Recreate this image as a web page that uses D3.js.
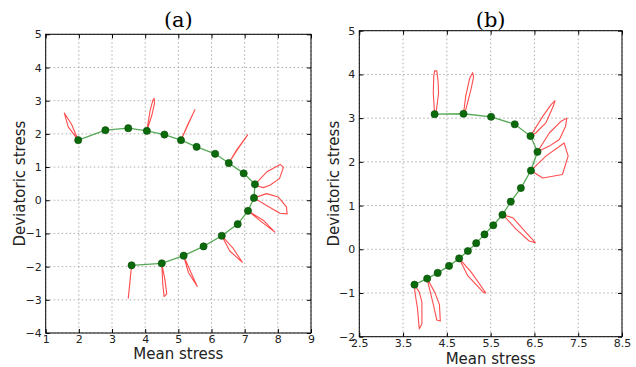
<!DOCTYPE html>
<html>
<head>
<meta charset="utf-8">
<script src="https://cdn.jsdelivr.net/npm/d3@7"></script>
<style>
  body { margin: 0; background: #fff; }
  svg text { font-family: "DejaVu Sans", sans-serif; }
</style>
</head>
<body>
<svg width="636" height="367"></svg>
<script>
// stress path points, panel (a)
const aPoints = [
  [1.98, 1.81], [2.80, 2.11], [3.49, 2.17], [4.05, 2.09], [4.58, 1.98],
  [5.08, 1.81], [5.55, 1.61], [6.11, 1.40], [6.52, 1.12], [6.97, 0.81],
  [7.31, 0.48], [7.28, 0.07], [7.10, -0.32], [6.79, -0.72], [6.31, -1.07],
  [5.76, -1.39], [5.16, -1.67], [4.50, -1.90], [3.59, -1.96]
];
// red loops, panel (a)
const aLoops = [
  [[1.98, 1.81], [1.68, 2.21], [1.56, 2.63], [1.78, 2.29]],
  [[4.05, 2.09], [4.15, 2.71], [4.23, 3.01], [4.27, 3.07], [4.28, 2.91], [4.20, 2.56]],
  [[5.08, 1.81], [5.30, 2.30], [5.50, 2.73], [5.27, 2.25]],
  [[6.52, 1.12], [6.80, 1.55], [7.09, 1.97], [6.76, 1.52]],
  [[7.31, 0.48], [7.66, 0.85], [8.07, 1.08], [8.17, 1.00], [8.05, 0.65], [7.76, 0.45], [7.56, 0.38], [7.41, 0.42]],
  [[7.28, 0.07], [7.66, 0.20], [8.01, 0.10], [8.26, -0.20], [8.28, -0.41], [8.06, -0.39], [7.66, -0.16]],
  [[7.10, -0.32], [7.56, -0.60], [7.91, -0.96], [7.51, -0.65]],
  [[6.31, -1.07], [6.66, -1.46], [6.93, -1.87], [6.55, -1.53]],
  [[5.16, -1.67], [5.40, -2.22], [5.57, -2.60], [5.30, -2.17]],
  [[4.50, -1.90], [4.60, -2.42], [4.65, -2.82], [4.57, -2.90], [4.53, -2.52]],
  [[3.59, -1.96], [3.49, -2.95], [3.54, -2.47]]
];

// stress path points, panel (b)
const bPoints = [
  [4.22, 3.09], [4.88, 3.10], [5.51, 3.03], [6.05, 2.86], [6.41, 2.59],
  [6.57, 2.23], [6.42, 1.80], [6.19, 1.40], [5.96, 1.09], [5.77, 0.79],
  [5.56, 0.55], [5.36, 0.34], [5.17, 0.14], [4.98, -0.04], [4.78, -0.21],
  [4.55, -0.38], [4.29, -0.54], [4.05, -0.67], [3.76, -0.81]
];
// red loops, panel (b)
const bLoops = [
  [[4.22, 3.09], [4.19, 3.57], [4.20, 3.95], [4.22, 4.08], [4.27, 4.08], [4.30, 3.84], [4.31, 3.57], [4.25, 3.09]],
  [[4.88, 3.10], [4.93, 3.50], [5.02, 3.91], [5.09, 4.04], [5.11, 3.94], [5.05, 3.65], [4.93, 3.19]],
  [[6.41, 2.59], [6.69, 3.04], [6.88, 3.31], [6.97, 3.40], [6.93, 3.27], [6.76, 2.89], [6.53, 2.66]],
  [[6.57, 2.23], [6.84, 2.66], [7.11, 2.93], [7.24, 3.00], [7.21, 2.81], [7.07, 2.51], [6.84, 2.36]],
  [[6.42, 1.80], [6.76, 2.13], [7.18, 2.43], [7.27, 2.13], [7.14, 1.71], [6.69, 1.63]],
  [[5.77, 0.79], [6.01, 0.72], [6.31, 0.38], [6.52, 0.15], [6.38, 0.19], [6.08, 0.46], [5.81, 0.76]],
  [[4.78, -0.21], [5.06, -0.53], [5.39, -1.00], [5.33, -0.98], [4.98, -0.61]],
  [[4.05, -0.67], [4.22, -0.98], [4.33, -1.26], [4.35, -1.64], [4.27, -1.62], [4.20, -1.30], [4.09, -0.85]],
  [[3.76, -0.81], [3.87, -0.98], [3.93, -1.21], [3.93, -1.71], [3.87, -1.82], [3.83, -1.36], [3.77, -0.98]]
];

const aXTicks = [1, 2, 3, 4, 5, 6, 7, 8, 9];
const aYTicks = [-4, -3, -2, -1, 0, 1, 2, 3, 4, 5];
const bXTicks = [2.5, 3.5, 4.5, 5.5, 6.5, 7.5, 8.5];
const bYTicks = [-2, -1, 0, 1, 2, 3, 4, 5];

const svg = d3.select('svg');
const fmt = v => String(v).replace('-', '\u2212');

function panel(cfg) {
  const x = d3.scaleLinear().domain(cfg.xDomain).range([cfg.left, cfg.right]);
  const y = d3.scaleLinear().domain(cfg.yDomain).range([cfg.bottom, cfg.top]);
  const g = svg.append('g');

  // dotted grid
  g.selectAll('.gx').data(cfg.xTicks).enter().append('line')
    .attr('x1', d => x(d)).attr('x2', d => x(d))
    .attr('y1', cfg.top).attr('y2', cfg.bottom)
    .attr('stroke', '#999').attr('stroke-width', 0.8).attr('stroke-dasharray', '1.5,2.5');
  g.selectAll('.gy').data(cfg.yTicks).enter().append('line')
    .attr('y1', d => y(d)).attr('y2', d => y(d))
    .attr('x1', cfg.left).attr('x2', cfg.right)
    .attr('stroke', '#999').attr('stroke-width', 0.8).attr('stroke-dasharray', '1.5,2.5');

  // axes with inward ticks
  const axB = d3.axisBottom(x).tickValues(cfg.xTicks).tickSize(-4).tickPadding(2).tickFormat(fmt);
  const axL = d3.axisLeft(y).tickValues(cfg.yTicks).tickSize(-4).tickPadding(4).tickFormat(fmt);
  const axT = d3.axisTop(x).tickValues(cfg.xTicks).tickSize(-4).tickFormat('');
  const axR = d3.axisRight(y).tickValues(cfg.yTicks).tickSize(-4).tickFormat('');
  [[axB, `translate(0,${cfg.bottom})`], [axL, `translate(${cfg.left},0)`],
   [axT, `translate(0,${cfg.top})`], [axR, `translate(${cfg.right},0)`]].forEach(([ax, tr]) => {
    const a = g.append('g').attr('transform', tr).call(ax);
    a.select('.domain').remove();
    a.selectAll('text').attr('font-size', 11).attr('fill', '#222')
      .attr('font-family', '"DejaVu Sans", sans-serif');
  });

  // red loops
  const line = d3.line().x(d => x(d[0])).y(d => y(d[1]));
  g.selectAll('.loop').data(cfg.loops).enter().append('path')
    .attr('d', d => line(d) + 'Z')
    .attr('fill', 'none').attr('stroke', '#ff2020').attr('stroke-opacity', 0.8)
    .attr('stroke-width', 1.1).attr('stroke-linejoin', 'round');

  // green path and markers
  g.append('path').datum(cfg.points).attr('d', line)
    .attr('fill', 'none').attr('stroke', '#3a9a3a').attr('stroke-opacity', 0.85).attr('stroke-width', 1.3);
  g.selectAll('.pt').data(cfg.points).enter().append('circle')
    .attr('cx', d => x(d[0])).attr('cy', d => y(d[1])).attr('r', 3.6)
    .attr('fill', '#0b6b0b').attr('stroke', '#064806').attr('stroke-width', 0.6);

  // frame
  g.append('rect').attr('x', cfg.left).attr('y', cfg.top)
    .attr('width', cfg.right - cfg.left).attr('height', cfg.bottom - cfg.top)
    .attr('fill', 'none').attr('stroke', '#000').attr('stroke-width', 1);

  const cx = (cfg.left + cfg.right) / 2;
  g.append('text').attr('x', cx).attr('y', 27).attr('text-anchor', 'middle')
    .attr('font-size', 21).style('font-family', '"DejaVu Serif", serif').text(cfg.title);
  g.append('text').attr('x', cx).attr('y', cfg.xlabY).attr('text-anchor', 'middle')
    .attr('font-size', 15).attr('fill', '#222').text('Mean stress');
  g.append('text').attr('transform', `translate(${cfg.ylabX},${(cfg.top + cfg.bottom) / 2}) rotate(-90)`)
    .attr('text-anchor', 'middle').attr('font-size', 15).attr('fill', '#222').text('Deviatoric stress');
}

panel({
  title: '(a)', left: 45.7, right: 311, top: 34.3, bottom: 333,
  xDomain: [1, 9], yDomain: [-4, 5], xTicks: aXTicks, yTicks: aYTicks,
  points: aPoints, loops: aLoops, ylabX: 25, xlabY: 359
});
panel({
  title: '(b)', left: 359.3, right: 622, top: 30.7, bottom: 336.7,
  xDomain: [2.5, 8.5], yDomain: [-2, 5], xTicks: bXTicks, yTicks: bYTicks,
  points: bPoints, loops: bLoops, ylabX: 339, xlabY: 364
});
</script>
</body>
</html>
